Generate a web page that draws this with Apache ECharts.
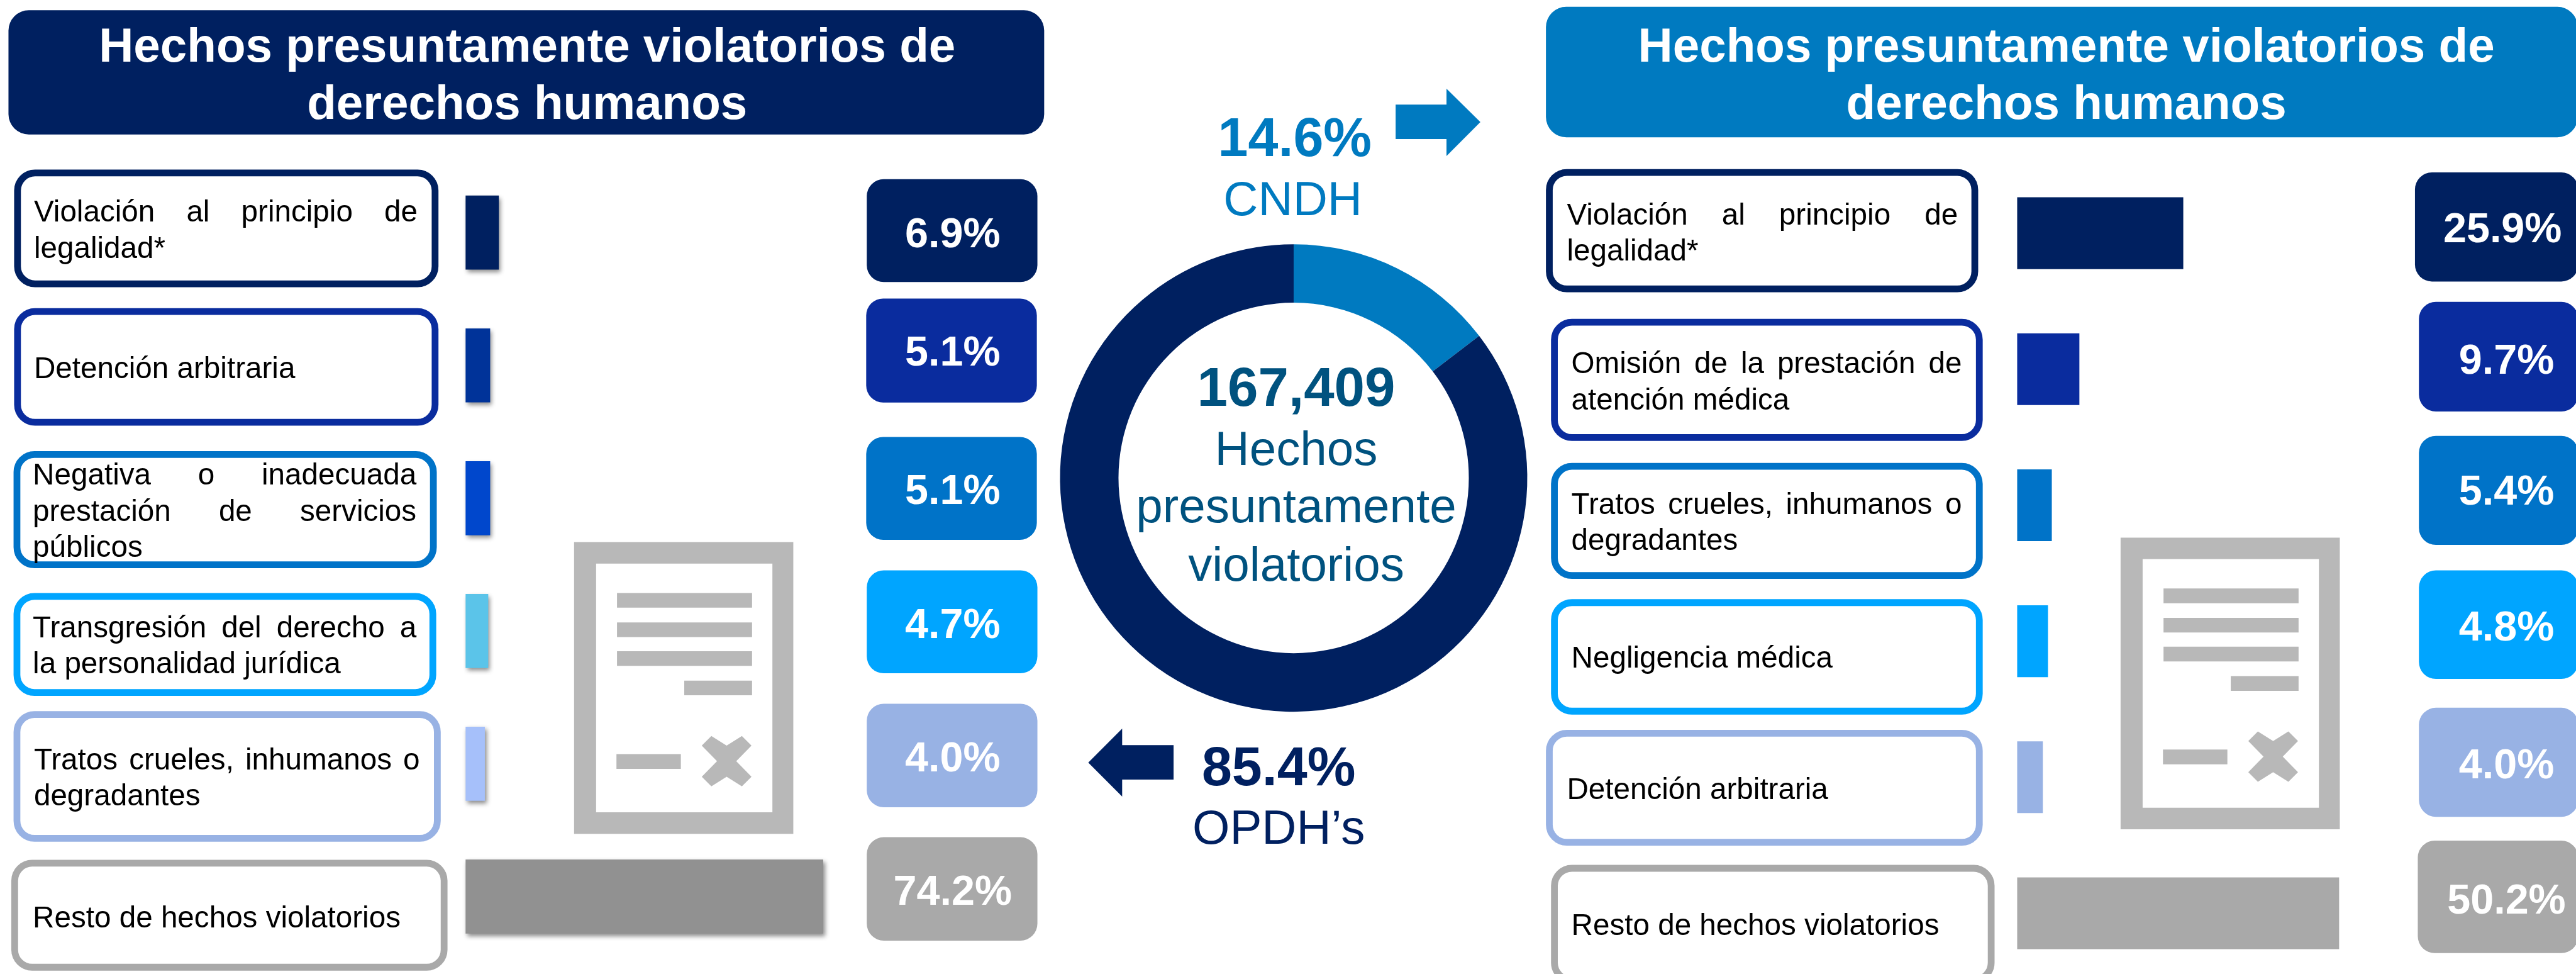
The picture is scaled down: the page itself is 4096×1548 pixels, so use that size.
<!DOCTYPE html>
<html><head><meta charset="utf-8">
<style>html,body{margin:0;padding:0;background:#fff}#c{width:4096px;height:1548px}</style>
<script src="https://cdn.jsdelivr.net/npm/echarts@6/dist/echarts.min.js"></script>
</head><body><div id="c"></div>
<script>
// ---- data ----
const titleText = "Hechos presuntamente violatorios de\nderechos humanos";
const leftLabels = [
  ["Violación al principio de","legalidad*"],
  ["Detención arbitraria"],
  ["Negativa o inadecuada","prestación de servicios","públicos"],
  ["Transgresión del derecho a","la personalidad jurídica"],
  ["Tratos crueles, inhumanos o","degradantes"],
  ["Resto de hechos violatorios"]
];
const leftValues = [6.9, 5.1, 5.1, 4.7, 4.0, 74.2];
const rightLabels = [
  ["Violación al principio de","legalidad*"],
  ["Omisión de la prestación de","atención médica"],
  ["Tratos crueles, inhumanos o","degradantes"],
  ["Negligencia médica"],
  ["Detención arbitraria"],
  ["Resto de hechos violatorios"]
];
const rightValues = [25.9, 9.7, 5.4, 4.8, 4.0, 50.2];
const donutNames = ["CNDH", "OPDH's"];
const donutValues = [14.6, 85.4];
const totalText = "167,409";
const centerLines = ["Hechos","presuntamente","violatorios"];

// ---- styles ----
const S = 4096/4559, F = '"Liberation Sans", Arial, sans-serif';
const NAVY='#002060', BLUE='#007AC0', CENTER='#00527F', GREY='#B8B8B8';
const tileColors = ['#002060','#0A2C9E','#0073C8','#00A5FF','#98B2E4','#A9A9A9'];
const leftBarColors = ['#002060','#003399','#0047CC','#5BC4E9','#A6C0FA','#919191'];

const g = [];
const mctx = document.createElement('canvas').getContext('2d');
function rect(x1,y1,x2,y2,o){ o=o||{}; const sw=o.stroke?o.sw:0;
  g.push({type:'rect',silent:true,z:o.z||1,
    shape:{x:(x1+sw/2)*S,y:(y1+sw/2)*S,width:(x2-x1-sw)*S,height:(y2-y1-sw)*S,r:(o.r||0)*S},
    style:{fill:o.fill||'#fff',stroke:o.stroke||null,lineWidth:sw*S}});
}
function poly(pts,fill){ g.push({type:'polygon',silent:true,z:1,shape:{points:pts.map(p=>[p[0]*S,p[1]*S])},style:{fill}}); }
// text placed by its baseline, in reference pixels
function text(s,x,base,fs,fill,o){ o=o||{}; const px=fs*S;
  g.push({type:'text',silent:true,z:3,x:x*S,y:base*S-px*0.2745,
    style:{text:s,x:0,y:0,fill,font:(o.bold?'bold ':'')+px+'px '+F,textAlign:o.align||'center',textVerticalAlign:'middle',verticalAlign:'middle'}});
}
const BF=53;
function justified(line,x0,x1,base,isLast){
  const px=BF*S; mctx.font=px+'px "Liberation Sans"';
  const words=line.split(' ');
  if(isLast||words.length<2){ text(line,x0,base,BF,'#000',{align:'left'}); return; }
  const widths=words.map(w=>mctx.measureText(w).width/S);
  const gap=(x1-x0-widths.reduce((a,b)=>a+b,0))/(words.length-1);
  let x=x0; words.forEach((w,i)=>{ text(w,x,base,BF,'#000',{align:'left'}); x+=widths[i]+gap; });
}
function box(b,lines,color){
  rect(b[0],b[1],b[2],b[3],{stroke:color,sw:12,r:31});
  lines.forEach((l,i)=>justified(l,b[4],b[5],b[6]+i*64,i===lines.length-1));
}
function tile(t,val,color){
  rect(t[0],t[1],t[2],t[3],{fill:color,r:30});
  text(val.toFixed(1)+'%',t[4],t[5],74,'#fff',{bold:true});
}
function header(x1,y1,x2,y2,cx,b1,color){
  rect(x1,y1,x2,y2,{fill:color,r:36});
  const ls=titleText.split('\n');
  text(ls[0],cx,b1,85,'#fff',{bold:true});
  text(ls[1],cx,b1+101,85,'#fff',{bold:true});
}
function icon(dx,dy){
  rect(1016+dx,959+dy,1404+dx,1475+dy,{fill:GREY});
  rect(1055+dx,997+dy,1367+dx,1437+dy,{fill:'#fff'});
  rect(1092+dx,1049+dy,1331+dx,1075+dy,{fill:GREY});
  rect(1092+dx,1101+dy,1331+dx,1127+dy,{fill:GREY});
  rect(1092+dx,1152+dy,1331+dx,1178+dy,{fill:GREY});
  rect(1211+dx,1204+dy,1331+dx,1230+dy,{fill:GREY});
  rect(1091+dx,1334+dy,1205+dx,1360+dy,{fill:GREY});
  const X=1242+dx,W=88,Y=1302+dy,H=89,a=17,b=17;
  poly([[X+a,Y],[X+W/2,Y+b],[X+W-a,Y],[X+W,Y+b],[X+W/2+a,Y+H/2],[X+W,Y+H-b],[X+W-a,Y+H],[X+W/2,Y+H-b],[X+a,Y+H],[X,Y+H-b],[X+W/2-a,Y+H/2],[X,Y+b]],GREY);
}

// left panel
header(15,18,1848,238,933,109.5,NAVY);
const lb=[[25,300,776,508,60,739,392],[25,545,776,753,60,739,669],[24,798,773,1005,58,737,857],[24,1049,772,1231,58,737,1127],[24,1258,780,1489,60,743,1361],[20,1521,792,1717,58,737,1640]];
lb.forEach((b,i)=>box(b,leftLabels[i],tileColors[i]));
const lt=[[1534,317,1836,499,1686,437],[1533,528,1835,712,1686,647],[1533,773,1835,955,1686,892],[1534,1009,1836,1191,1686,1128],[1534,1245,1836,1428,1686,1364],[1534,1481,1836,1664,1686,1600]];
lt.forEach((t,i)=>tile(t,leftValues[i],tileColors[i]));
icon(0,0);

// right panel
header(2736,12,4562,243,3657,109,BLUE);
const rb=[[2736,299,3501,517,2773,3465,397],[2745,564,3509,780,2781,3472,660],[2745,819,3509,1024,2781,3472,909],[2745,1060,3509,1264,2781,3472,1181],[2736,1291,3509,1496,2773,3472,1414],[2745,1530,3530,1740,2781,3472,1654]];
rb.forEach((b,i)=>box(b,rightLabels[i],tileColors[i]));
const rt=[[4274,305,4563,498,4429,428],[4281,534,4563,728,4436,661],[4281,771,4563,964,4436,893],[4281,1009,4563,1201,4436,1133],[4281,1252,4563,1445,4436,1377],[4279,1487,4563,1686,4436,1616]];
rt.forEach((t,i)=>tile(t,rightValues[i],tileColors[i]));
icon(2737,-8);

// centre
text(donutValues[0].toFixed(1)+'%',2291.5,276,96,BLUE,{bold:true});
text(donutNames[0],2288,381,85,BLUE);
poly([[2470,185],[2560,185],[2560,157],[2620,216],[2560,276],[2560,246],[2470,246]],BLUE);
text(donutValues[1].toFixed(1)+'%',2263,1389,96,NAVY,{bold:true});
text("OPDH’s",2263,1493,85,NAVY);
poly([[2077,1318],[1986,1318],[1986,1289],[1926,1349],[1986,1409],[1986,1379],[2077,1379]],NAVY);
text(totalText,2294,718,97,CENTER,{bold:true});
centerLines.forEach((l,i)=>text(l,2294,[822,924,1027][i],85,CENTER));

const chart = echarts.init(document.getElementById('c'),null,{renderer:'canvas'});
const barSeries=(idx,vals,cols,w,shadow)=>({type:'bar',xAxisIndex:idx,yAxisIndex:idx,barWidth:w*S,silent:true,z:2,
  data:vals.map((v,i)=>({value:v,itemStyle:Object.assign({color:cols[i]},shadow?{shadowColor:'rgba(0,0,0,0.45)',shadowBlur:7,shadowOffsetX:3,shadowOffsetY:4}:{})}))});
const yA=cats=>({type:'category',inverse:true,boundaryGap:false,show:false,data:cats});
chart.setOption({
  animation:false,
  backgroundColor:'#fff',
  grid:[
    {left:824*S,top:411.5*S,width:682.4*S,height:1174.5*S,containLabel:false},
    {left:3570*S,top:412.5*S,width:681*S,height:1203*S,containLabel:false}
  ],
  xAxis:[{type:'value',gridIndex:0,min:0,max:80,show:false},{type:'value',gridIndex:1,min:0,max:60,show:false}],
  yAxis:[Object.assign(yA(leftLabels.map(l=>l.join(' '))),{gridIndex:0}),Object.assign(yA(rightLabels.map(l=>l.join(' '))),{gridIndex:1})],
  series:[
    barSeries(0,leftValues,leftBarColors,131,true),
    barSeries(1,rightValues,tileColors,127,false),
    {type:'pie',silent:true,center:[2289.5*S,845.5*S],radius:[310*S,413.5*S],startAngle:90,clockwise:true,
     label:{show:false},labelLine:{show:false},
     data:donutNames.map((n,i)=>({name:n,value:donutValues[i],itemStyle:{color:i===0?BLUE:NAVY}}))}
  ],
  graphic:g
});
</script></body></html>
